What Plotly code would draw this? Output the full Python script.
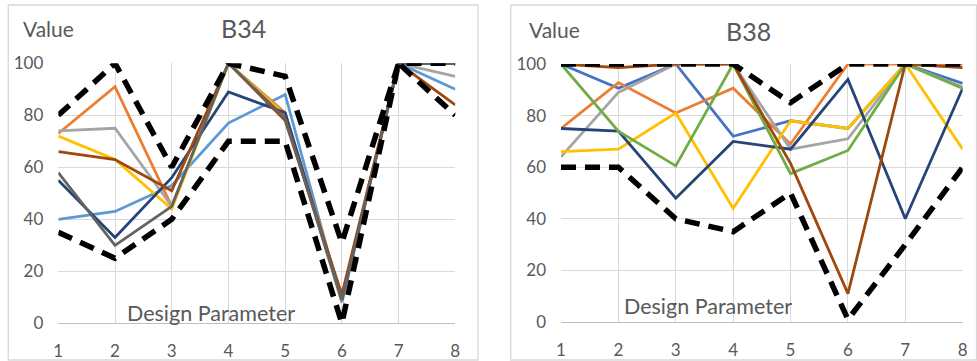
import plotly.graph_objects as go

x_params = [1, 2, 3, 4, 5, 6, 7, 8]

# ---- B34 series ----
b34_light_blue = [40, 43, 53, 77, 88, 8, 100, 90]
b34_orange     = [73, 91, 45, 100, 81, 10, 100, 100]
b34_gray       = [74, 75, 45, 100, 80, 8, 100, 95]
b34_yellow     = [72, 63, 44, 100, 80, 9, 100, 100]
b34_dark_blue  = [55, 33, 56, 89, 81, 9, 100, 100]
b34_brown      = [66, 63, 51, 100, 78, 11, 100, 84]
b34_dark_gray  = [58, 30, 45, 100, 79, 9, 100, 100]
b34_upper      = [80, 100, 60, 100, 95, 31, 100, 100]
b34_lower      = [35, 25, 40, 70, 70, 0, 100, 80]

# ---- B38 series ----
b38_blue       = [100, 90.6, 100, 72, 78, 75, 100, 92.5]
b38_orange     = [75, 92.8, 81, 90.6, 69, 100, 100, 100]
b38_gray       = [64, 89, 100, 100, 67, 71, 100, 91]
b38_yellow     = [66, 67, 81, 44, 78, 75, 100, 67]
b38_dark_blue  = [75, 74, 48, 70, 67, 94, 40, 90.6]
b38_green      = [100, 74, 60.5, 100, 57.5, 66.5, 100, 90.5]
b38_brown      = [100, 98.6, 100, 100, 61.5, 11, 100, 98.6]
b38_upper      = [100, 100, 100, 100, 85, 100, 100, 100]
b38_lower      = [60, 60, 40, 35, 50, 1, 30, 60]

W, H = 977, 361
def px(x): return x / W
def py(y): return 1 - y / H

fig = go.Figure()

def add_line(y, color, xa, ya, dashed=False):
    fig.add_trace(go.Scatter(
        x=x_params, y=y, mode="lines", xaxis=xa, yaxis=ya,
        line=dict(color=color, width=5.5 if dashed else 2.8,
                  dash="15px,9px" if dashed else "solid"),
        hoverinfo="skip", showlegend=False))

left = [(b34_light_blue, "#5B9BD5"), (b34_orange, "#ED7D31"), (b34_gray, "#A5A5A5"),
        (b34_yellow, "#FFC000"), (b34_dark_blue, "#264478"), (b34_brown, "#9E480E"),
        (b34_dark_gray, "#636363")]
for y, c in left:
    add_line(y, c, "x", "y")
add_line(b34_upper, "black", "x", "y", True)
add_line(b34_lower, "black", "x", "y", True)

right = [(b38_blue, "#4472C4"), (b38_orange, "#ED7D31"), (b38_gray, "#A5A5A5"),
         (b38_yellow, "#FFC000"), (b38_dark_blue, "#264478"), (b38_green, "#70AD47"),
         (b38_brown, "#9E480E")]
for y, c in right:
    add_line(y, c, "x2", "y2")
add_line(b38_upper, "black", "x2", "y2", True)
add_line(b38_lower, "black", "x2", "y2", True)

font_family = "Lato, 'Open Sans', sans-serif"
tick_font = dict(family=font_family, size=17, color="#595959")

xax = dict(range=[1, 8], tickvals=x_params, ticktext=[str(v) for v in x_params],
           showgrid=True, gridcolor="#D9D9D9", gridwidth=1.3, zeroline=False,
           showline=True, linecolor="#BFBFBF", linewidth=1.3, ticks="",
           tickfont=tick_font, ticklabelstandoff=12, fixedrange=True,
           automargin=False)
yax = dict(range=[0, 100], tickvals=[0, 20, 40, 60, 80, 100],
           showgrid=True, gridcolor="#D9D9D9", gridwidth=1.3, zeroline=False,
           showline=False, ticks="", tickfont=tick_font, ticklabelstandoff=14,
           fixedrange=True, automargin=False)

fig.update_layout(
    width=W, height=H, margin=dict(l=0, r=0, t=0, b=0, pad=0), autosize=False,
    paper_bgcolor="white", plot_bgcolor="white", showlegend=False,
    xaxis=dict(xax, domain=[px(58.3), px(455.3)], anchor="y"),
    yaxis=dict(yax, domain=[py(323.3), py(63.3)], anchor="x"),
    xaxis2=dict(xax, domain=[px(561), px(962.7)], anchor="y2"),
    yaxis2=dict(yax, domain=[py(322), py(64)], anchor="x2"),
)

ann_font_value = dict(family=font_family, size=21, color="#595959")
ann_font_title = dict(family=font_family, size=25, color="#595959")
ann_font_label = dict(family=font_family, size=21.5, color="#595959")
anns = [
    dict(text="Value", x=px(22), y=py(28), xanchor="left", yanchor="middle", font=ann_font_value),
    dict(text="B34", x=px(243), y=py(28), xanchor="center", yanchor="middle", font=ann_font_title),
    dict(text="Design Parameter", x=px(211), y=py(313), xanchor="center", yanchor="middle", font=ann_font_label),
    dict(text="Value", x=px(528), y=py(29), xanchor="left", yanchor="middle", font=ann_font_value),
    dict(text="B38", x=px(748), y=py(31), xanchor="center", yanchor="middle", font=ann_font_title),
    dict(text="Design Parameter", x=px(708), y=py(306), xanchor="center", yanchor="middle", font=ann_font_label),
]
for a in anns:
    a.update(xref="paper", yref="paper", showarrow=False, borderpad=0)
fig.update_layout(annotations=anns)

fig.update_layout(shapes=[
    dict(type="rect", xref="paper", yref="paper", x0=px(8.3), x1=px(478), y0=py(360), y1=py(5),
         line=dict(color="#D9D9D9", width=1.3), layer="below"),
    dict(type="rect", xref="paper", yref="paper", x0=px(510.7), x1=px(976.5), y0=py(360), y1=py(5),
         line=dict(color="#D9D9D9", width=1.3), layer="below"),
])

fig.write_html("out.html", config={"displayModeBar": False},
               post_script="document.body.style.margin='0';document.body.style.overflow='hidden';")
